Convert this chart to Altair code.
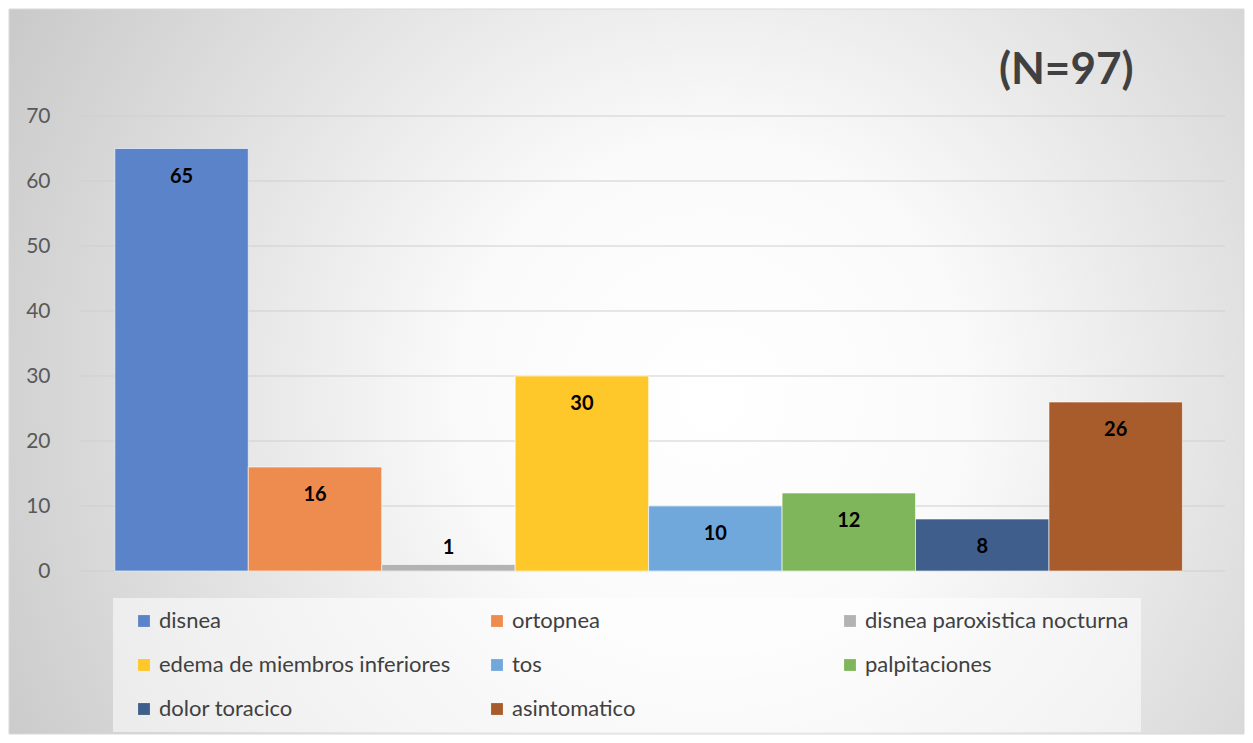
import altair as alt
import pandas as pd

categories = ["disnea", "ortopnea", "disnea paroxistica nocturna",
              "edema de miembros inferiores", "tos", "palpitaciones",
              "dolor toracico", "asintomatico"]
values = [65, 16, 1, 30, 10, 12, 8, 26]
colors = ["#5b83c9", "#ee8c4f", "#b3b3b3", "#fec72a",
          "#70a8dc", "#80b65b", "#3f5e8c", "#a85b2b"]
y_ticks = [0, 10, 20, 30, 40, 50, 60, 70]
title_text = "(N=97)"

df = pd.DataFrame({"sintoma": categories, "n": values})
grid_df = pd.DataFrame({"n": y_ticks})

W, H = 1145, 455
PL, PT, PR, PB = 72, 108, 20, 164

gradient = {
    "gradient": "radial",
    "x1": 0.57, "y1": 0.52, "r1": 0,
    "x2": 0.57, "y2": 0.52, "r2": 0.68,
    "stops": [
        {"offset": 0.0, "color": "#ffffff"},
        {"offset": 0.3, "color": "#fafafa"},
        {"offset": 1.0, "color": "#c6c6c6"},
    ],
}

y_scale = alt.Scale(domain=[0, 70])
y_axis = alt.Axis(values=y_ticks, title=None, domain=False, ticks=False,
                  grid=False, zindex=1,
                  tickSize=0, labelPadding=30, labelFontSize=21,
                  labelFont="Lato", labelColor="#595959")

bg = alt.Chart(pd.DataFrame({"k": [0]})).mark_rect(
    fill=gradient, stroke="#d9d9d9", strokeWidth=1
).encode(
    x=alt.value(-PL + 1), x2=alt.value(W + PR - 1),
    y=alt.value(-PT + 1), y2=alt.value(H + PB - 1),
)

grid = alt.Chart(grid_df).mark_rule(color="#cfcfcf", strokeWidth=1).encode(
    y=alt.Y("n:Q", scale=y_scale, axis=y_axis)
)

x_enc = alt.X("sintoma:N", sort=categories, axis=None,
              scale=alt.Scale(paddingInner=0, paddingOuter=0.29, align=0.45))
y_enc = alt.Y("n:Q", scale=y_scale, axis=y_axis)

bars = alt.Chart(df).mark_bar(stroke="#ffffff", strokeWidth=1, strokeOpacity=0.6).encode(
    x=x_enc,
    y=y_enc,
    color=alt.Color(
        "sintoma:N", sort=categories,
        scale=alt.Scale(domain=categories, range=colors),
        legend=alt.Legend(
            orient="none", legendX=33, legendY=482, columns=3, gridAlign="all",
            direction="horizontal",
            title=None, symbolType="square", symbolSize=140, symbolStrokeWidth=0,
            labelFontSize=22, labelFont="Lato", labelColor="#404040",
            labelLimit=400, columnPadding=27, rowPadding=22, padding=12,
            symbolOffset=8, fillColor="rgba(255,255,255,0.55)",
        ),
    ),
)

text_in = alt.Chart(df).transform_filter("datum.n >= 5").mark_text(
    dy=28, fontSize=20, fontWeight="bold", font="Lato", color="#000000"
).encode(x=alt.X("sintoma:N", sort=categories), y=y_enc, text="n:Q")

text_out = alt.Chart(df).transform_filter("datum.n < 5").mark_text(
    dy=-17, fontSize=20, fontWeight="bold", font="Lato", color="#000000"
).encode(x=alt.X("sintoma:N", sort=categories), y=y_enc, text="n:Q")

chart = alt.layer(bg, grid, bars, text_in, text_out).properties(
    width=W, height=H,
    title=alt.TitleParams(title_text, anchor="end", fontSize=44, font="Lato",
                          fontWeight="bold", color="#404040", baseline="bottom",
                          offset=0, dy=128, dx=-111),
    autosize=alt.AutoSizeParams(type="none"),
    padding={"left": PL, "top": PT, "right": PR, "bottom": PB},
).configure_view(stroke=None).configure(background="white")

chart.save("out.html", embed_options={"renderer": "svg", "actions": False})
